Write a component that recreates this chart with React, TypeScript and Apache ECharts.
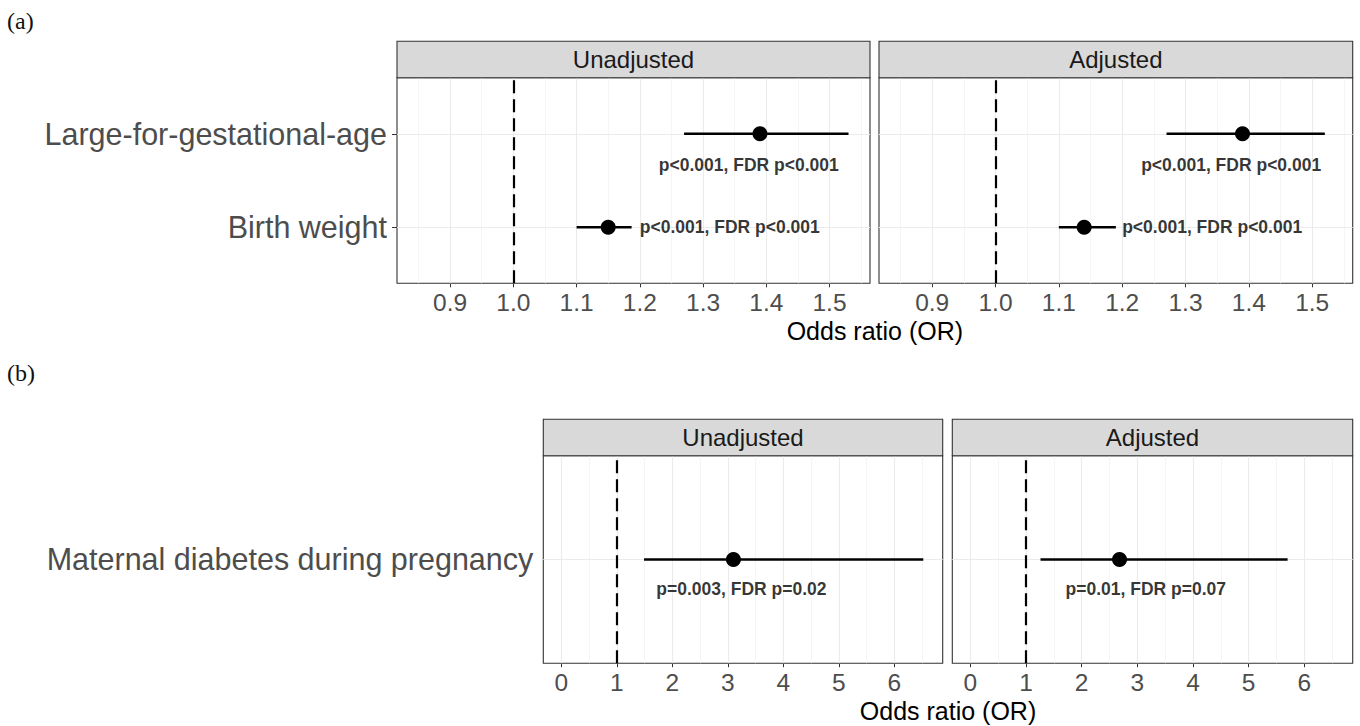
import React, { useEffect, useRef } from "react";
import * as echarts from "echarts";

// ---------- DATA ----------
const panelNames = ["Unadjusted", "Adjusted"];

// panel (a): y position 1 = Birth weight, 2 = Large-for-gestational-age
const outcomesA = ["Birth weight", "Large-for-gestational-age"];
const orA_unadj = [1.15, 1.39];
const loA_unadj = [1.1, 1.27];
const hiA_unadj = [1.187, 1.53];
const orA_adj = [1.14, 1.39];
const loA_adj = [1.1, 1.27];
const hiA_adj = [1.19, 1.52];
const pTextA_unadj = ["p<0.001, FDR p<0.001", "p<0.001, FDR p<0.001"];
const pTextA_adj = ["p<0.001, FDR p<0.001", "p<0.001, FDR p<0.001"];
const pLabelXA = [1.2, 1.23];
const pLabelYA = [1, 1.67];
const ticksA = [0.9, 1.0, 1.1, 1.2, 1.3, 1.4, 1.5];
const minorA = [0.85, 0.95, 1.05, 1.15, 1.25, 1.35, 1.45, 1.55];
const rangeA = [0.816, 1.564];

// panel (b): y position 1 = Maternal diabetes during pregnancy
const outcomesB = ["Maternal diabetes during pregnancy"];
const orB_unadj = [3.1];
const loB_unadj = [1.49];
const hiB_unadj = [6.52];
const orB_adj = [2.68];
const loB_adj = [1.26];
const hiB_adj = [5.7];
const pTextB_unadj = ["p=0.003, FDR p=0.02"];
const pTextB_adj = ["p=0.01, FDR p=0.07"];
const pLabelXB = [1.71];
const pLabelYB = [0.83];
const ticksB = [0, 1, 2, 3, 4, 5, 6];
const minorB = [0.5, 1.5, 2.5, 3.5, 4.5, 5.5, 6.5];
const rangeB = [-0.325, 6.87];

const refLine = 1;
const xTitle = "Odds ratio (OR)";

// ---------- LAYOUT ----------
const FONT = "'Liberation Sans', Arial, Helvetica, sans-serif";
const grids = [
  { left: 397, top: 77.7, width: 473, height: 205.6 },
  { left: 879, top: 77.7, width: 473.7, height: 205.6 },
  { left: 543.3, top: 455.7, width: 399.4, height: 207.5 },
  { left: 952.3, top: 455.7, width: 400.4, height: 207.5 },
];
const STRIP_H = 36.5;

export default function App() {
  const ref = useRef<HTMLDivElement>(null);

  useEffect(() => {
    if (!ref.current) return;
    const chart = echarts.init(ref.current, null, { renderer: "svg" });

    const panels = [
      { or: orA_unadj, lo: loA_unadj, hi: hiA_unadj, txt: pTextA_unadj, lx: pLabelXA, ly: pLabelYA, ticks: ticksA, minor: minorA, range: rangeA, cats: outcomesA, yMax: outcomesA.length + 0.6, first: true, dec: 1 },
      { or: orA_adj, lo: loA_adj, hi: hiA_adj, txt: pTextA_adj, lx: pLabelXA, ly: pLabelYA, ticks: ticksA, minor: minorA, range: rangeA, cats: outcomesA, yMax: outcomesA.length + 0.6, first: false, dec: 1 },
      { or: orB_unadj, lo: loB_unadj, hi: hiB_unadj, txt: pTextB_unadj, lx: pLabelXB, ly: pLabelYB, ticks: ticksB, minor: minorB, range: rangeB, cats: outcomesB, yMax: outcomesB.length + 0.6, first: true, dec: 0 },
      { or: orB_adj, lo: loB_adj, hi: hiB_adj, txt: pTextB_adj, lx: pLabelXB, ly: pLabelYB, ticks: ticksB, minor: minorB, range: rangeB, cats: outcomesB, yMax: outcomesB.length + 0.6, first: false, dec: 0 },
    ];

    const gridOpts = grids.map((g) => ({
      ...g,
      show: true,
      backgroundColor: "#ffffff",
      borderColor: "#333333",
      borderWidth: 1.1,
      containLabel: false,
      outerBoundsMode: "none",
    }));

    const xAxes = panels.map((p, i) => ({
      gridIndex: i,
      type: "value",
      min: p.range[0],
      max: p.range[1],
      axisLine: { show: false },
      axisTick: {
        show: true,
        customValues: p.ticks,
        length: 4,
        lineStyle: { color: "#333333", width: 1 },
      },
      axisLabel: {
        show: true,
        customValues: p.ticks,
        formatter: (v: number) => v.toFixed(p.dec),
        fontSize: 24.5,
        fontFamily: FONT,
        color: "#4D4D4D",
        margin: 7,
      },
      splitLine: { show: false },
      minorSplitLine: { show: false },
    }));

    const yAxes = panels.map((p, i) => {
      const vals = p.cats.map((_, k) => k + 1);
      return {
        gridIndex: i,
        type: "value",
        min: 0.4,
        max: p.yMax,
        axisLine: { show: false },
        axisTick: {
          show: p.first,
          customValues: vals,
          length: 5,
          lineStyle: { color: "#333333", width: 1 },
        },
        axisLabel: {
          show: p.first,
          customValues: vals,
          formatter: (v: number) => p.cats[Math.round(v) - 1] ?? "",
          fontSize: 30.5,
          fontFamily: FONT,
          color: "#4D4D4D",
          margin: 10,
        },
        splitLine: { show: false },
      };
    });

    const series: any[] = [];
    panels.forEach((p, i) => {
      const lineData: any[] = [];
      p.minor.forEach((v) =>
        lineData.push({ xAxis: v, lineStyle: { color: "#F2F2F2", width: 0.8, type: "solid" } })
      );
      p.ticks.forEach((v) =>
        lineData.push({ xAxis: v, lineStyle: { color: "#EBEBEB", width: 1.1, type: "solid" } })
      );
      p.cats.forEach((_, k) =>
        lineData.push({ yAxis: k + 1, lineStyle: { color: "#EBEBEB", width: 1.1, type: "solid" } })
      );
      lineData.push({ xAxis: refLine, lineStyle: { color: "#000000", width: 2.2, type: [13, 6] } });

      series.push({
        type: "line",
        xAxisIndex: i,
        yAxisIndex: i,
        data: [],
        z: 1,
        silent: true,
        markLine: {
          z: 1,
          zlevel: 0,
          silent: true,
          symbol: ["none", "none"],
          label: { show: false },
          emphasis: { disabled: true },
          animation: false,
          data: lineData,
        },
      });

      series.push({
        type: "custom",
        xAxisIndex: i,
        yAxisIndex: i,
        z: 6,
        silent: true,
        encode: { x: [0, 1], y: 2 },
        data: p.or.map((_, k) => [p.lo[k], p.hi[k], k + 1]),
        renderItem: (params: any, api: any) => {
          const a = api.coord([api.value(0), api.value(2)]);
          const b = api.coord([api.value(1), api.value(2)]);
          return {
            type: "line",
            shape: { x1: a[0], y1: a[1], x2: b[0], y2: b[1] },
            style: { stroke: "#000000", lineWidth: 2.4 },
          };
        },
      });

      series.push({
        type: "scatter",
        xAxisIndex: i,
        yAxisIndex: i,
        z: 7,
        silent: true,
        symbol: "circle",
        symbolSize: 15,
        itemStyle: { color: "#000000", opacity: 1 },
        data: p.or.map((v, k) => [v, k + 1]),
      });

      series.push({
        type: "scatter",
        xAxisIndex: i,
        yAxisIndex: i,
        z: 8,
        silent: true,
        symbolSize: 0,
        itemStyle: { color: "transparent" },
        label: {
          show: true,
          position: "inside",
          align: "left",
          verticalAlign: "middle",
          formatter: "{b}",
          fontSize: 17.5,
          fontWeight: "bold",
          fontFamily: FONT,
          color: "#000000",
          textBorderWidth: 0,
        },
        data: p.txt.map((t, k) => ({ name: t, value: [p.lx[k], p.ly[k]] })),
      });
    });

    const graphics: any[] = [];
    grids.forEach((g, i) => {
      graphics.push({
        type: "rect",
        shape: { x: g.left, y: g.top - STRIP_H, width: g.width, height: STRIP_H },
        style: { fill: "#D9D9D9", stroke: "#333333", lineWidth: 1.1 },
        z: 10,
      });
      graphics.push({
        type: "text",
        x: g.left + g.width / 2,
        y: g.top - STRIP_H / 2,
        style: {
          text: panelNames[i % 2],
          fontSize: 24,
          fontFamily: FONT,
          fill: "#1A1A1A",
          align: "center",
          verticalAlign: "middle",
        },
        z: 11,
      });
    });
    graphics.push({
      type: "text",
      x: (grids[0].left + grids[1].left + grids[1].width) / 2,
      y: 331,
      style: { text: xTitle, fontSize: 25, fontFamily: FONT, fill: "#000000", align: "center", verticalAlign: "middle" },
    });
    graphics.push({
      type: "text",
      x: (grids[2].left + grids[3].left + grids[3].width) / 2,
      y: 711,
      style: { text: xTitle, fontSize: 25, fontFamily: FONT, fill: "#000000", align: "center", verticalAlign: "middle" },
    });
    graphics.push({
      type: "text",
      x: 7,
      y: 21,
      style: { text: "(a)", fontSize: 24, fontFamily: "'Liberation Serif', 'Times New Roman', serif", fill: "#111111", align: "left", verticalAlign: "middle" },
    });
    graphics.push({
      type: "text",
      x: 7,
      y: 373,
      style: { text: "(b)", fontSize: 24, fontFamily: "'Liberation Serif', 'Times New Roman', serif", fill: "#111111", align: "left", verticalAlign: "middle" },
    });

    chart.setOption({
      animation: false,
      backgroundColor: "#ffffff",
      grid: gridOpts,
      xAxis: xAxes,
      yAxis: yAxes,
      series,
      graphic: graphics,
    });

    return () => chart.dispose();
  }, []);

  return (
    <div
      ref={ref}
      style={{ position: "fixed", left: 0, top: 0, width: 1360, height: 726, background: "#fff" }}
    />
  );
}
